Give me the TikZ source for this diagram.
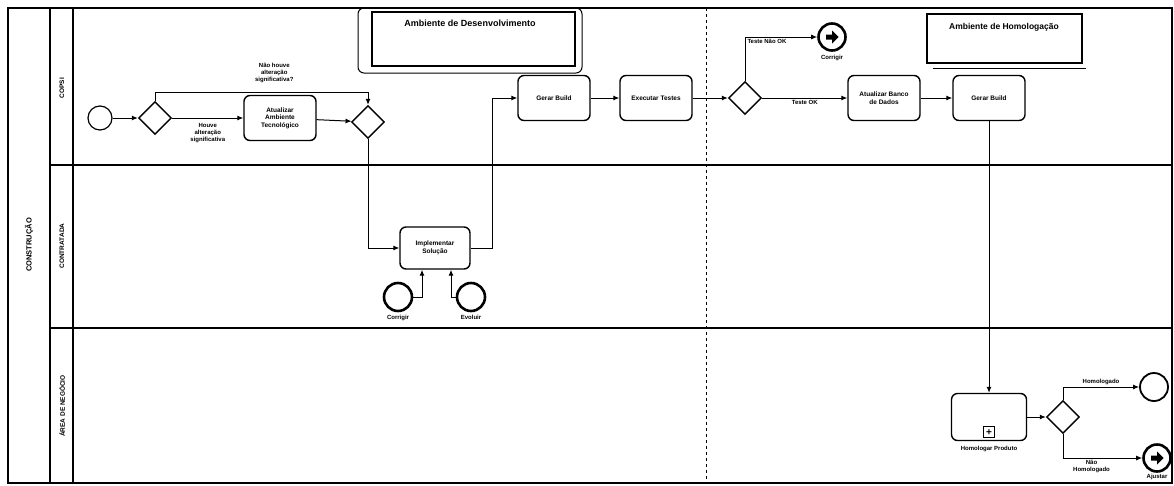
\documentclass[tikz,border=0pt]{standalone}
\usepackage{fontspec}
\setmainfont{Liberation Sans}
\usetikzlibrary{arrows.meta,positioning,calc,shapes.geometric}

\tikzset{
  task/.style={draw,line width=1.4pt,rounded corners=6pt,minimum width=72pt,minimum height=45pt,
    align=center,font=\fontsize{6.5}{7.5}\selectfont\bfseries},
  gw/.style={draw,diamond,line width=1.4pt,minimum width=33pt,minimum height=33pt,inner sep=0pt},
  startev/.style={draw,circle,line width=1.2pt,minimum size=24pt,inner sep=0pt},
  endev/.style={draw,circle,line width=2.6pt,minimum size=27pt,inner sep=0pt},
  flow/.style={-{Latex[length=6pt,width=5pt]},line width=1pt},
  lbl/.style={font=\fontsize{6}{7}\selectfont\bfseries,align=center,inner sep=2pt},
  lane/.style={font=\fontsize{6.5}{7}\selectfont\bfseries,rotate=90},
}

\begin{document}
\begin{tikzpicture}[x=1pt,y=-1pt]
\useasboundingbox (0,0) rectangle (1174,485);
% pool, lanes
\draw[line width=1.2pt] (8,8) rectangle (1172,483);
\draw[line width=1.2pt] (50,8) -- (50,483) (73,8) -- (73,483);
\foreach \y in {165,328}{\draw[line width=1.2pt] (50,\y) -- (1172,\y);}
\node[lane,font=\fontsize{7.5}{8}\selectfont\bfseries] (pool) at (29,245) {CONSTRUÇÃO};
\node[lane] (laneA) at (62,88) {COPSI};
\node[lane] (laneB) at (62,246) {CONTRATADA};
\node[lane] (laneC) at (62,406) {ÁREA DE NEGÓCIO};
\draw[dashed,line width=1pt] (706,8) -- (706,483);

% ambientes
\draw[line width=1pt,rounded corners=6pt] (358,8) rectangle (582,73);
\draw[line width=1.2pt] (372,12) rectangle (575,66);
\node[font=\fontsize{9}{10}\selectfont\bfseries] (desenv) at (470,23) {Ambiente de Desenvolvimento};
\draw[line width=1.2pt] (927,14) rectangle (1082,63);
\draw[line width=.8pt] (933,68) -- (1086,68);
\node[font=\fontsize{8.5}{9}\selectfont\bfseries] (homolog) at (1004,27) {Ambiente de Homologação};

% COPSI
\node[startev] (s0) at (100,118) {};
\node[gw] (g1) at (155,118) {};
\node[task] (atual) at (280,118) {Atualizar\\Ambiente\\Tecnológico};
\node[gw] (g2) at (368,122) {};
\node[task] (build1) at (554,98) {Gerar Build};
\node[task] (teste) at (656,98) {Executar Testes};
\node[gw] (g3) at (745,98) {};
\node[endev] (ecorr) at (832,37) {};
\node[lbl,below=1pt of ecorr] (ecorrl) {Corrigir};
\node[task] (banco) at (884,98) {Atualizar Banco\\de Dados};
\node[task] (build2) at (989,98) {Gerar Build};

% CONTRATADA
\node[task,minimum width=70pt,minimum height=42pt] (impl) at (435,248) {Implementar\\Solução};
\node[startev,line width=2.6pt,minimum size=28pt] (scorr) at (398,297) {};
\node[lbl,below=1pt of scorr] (scorrl) {Corrigir};
\node[startev,line width=2.6pt,minimum size=28pt] (sevol) at (471,297) {};
\node[lbl,below=1pt of sevol] (sevoll) {Evoluir};

% AREA DE NEGOCIO
\node[task,minimum width=75pt,minimum height=47pt] (homol) at (989,417) {};
\node[lbl,below=3pt of homol] (homoll) {Homologar Produto};
\node[draw,line width=1pt,minimum size=11pt,inner sep=0pt,anchor=south,font=\bfseries]
  (sub) at ([yshift=3pt]homol.south) {+};
\node[gw] (g4) at (1063,417) {};
\node[startev,line width=1.8pt,minimum size=28pt] (ehom) at (1154,387) {};
\node[endev] (eajus) at (1157,458) {};
\node[lbl,below=-1pt of eajus] (eajusl) {Ajustar};
\foreach \e in {ecorr,eajus}{
  \fill[shift={(\e)}] (-6,-2.5) -- (0,-2.5) -- (0,-6.5) -- (6.5,0) -- (0,6.5) -- (0,2.5) -- (-6,2.5) -- cycle;}

% fluxos
\draw[flow] (s0) -- (g1);
\draw[flow] (g1) -- node[lbl,below=3pt]{Houve\\alteração\\significativa} (atual);
\draw[flow] (g1.north) |- node[lbl,above=8pt,pos=.78]{Não houve\\alteração\\significativa?} ([yshift=12pt]g2.north) -- (g2.north);
\draw[flow] (atual) -- (g2);
\draw[flow] (g2.south) |- (impl.west);
\draw[flow] (impl.east) -- ++(22,0) |- (build1.west);
\draw[flow] (scorr.east) -| ([xshift=-13pt]impl.south);
\draw[flow] (sevol.west) -| ([xshift=16pt]impl.south);
\draw[flow] (build1) -- (teste);
\draw[flow] (teste) -- (g3);
\draw[flow] (g3.north) |- node[lbl,below right,pos=.5]{Teste Não OK} (ecorr.west);
\draw[flow] (g3) -- node[lbl,below]{Teste OK} (banco);
\draw[flow] (banco) -- (build2);
\draw[flow] (build2) -- (homol);
\draw[flow] (homol) -- (g4);
\draw[flow] (g4.north) |- node[lbl,above,pos=.75]{Homologado} (ehom.west);
\draw[flow] (g4.south) |- node[lbl,below,pos=.68]{Não\\Homologado} (eajus.west);
\end{tikzpicture}
\end{document}
